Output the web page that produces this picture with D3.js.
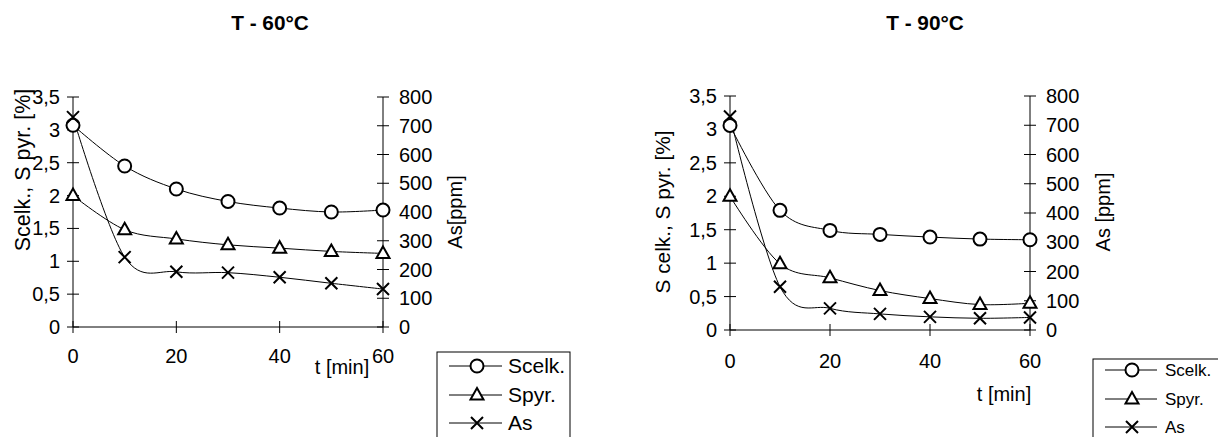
<!DOCTYPE html>
<html><head><meta charset="utf-8">
<script src="https://cdn.jsdelivr.net/npm/d3@7"></script>
<style>body{margin:0;background:#fff}svg{display:block;font-family:"Liberation Sans",Arial,sans-serif}</style>
</head><body>
<svg id="c" width="1218" height="437"></svg>
<script>
const times = [0, 10, 20, 30, 40, 50, 60];
const xTicks = [0, 20, 40, 60];
const leftTicks = [0, 0.5, 1, 1.5, 2, 2.5, 3, 3.5];
const rightTicks = [0, 100, 200, 300, 400, 500, 600, 700, 800];
const seriesNames = ["Scelk.", "Spyr.", "As"];

const scelk60 = [3.07, 2.45, 2.10, 1.91, 1.81, 1.75, 1.78];
const spyr60  = [2.00, 1.48, 1.34, 1.25, 1.20, 1.15, 1.12];
const as60    = [730, 243, 192, 189, 173, 152, 132];

const scelk90 = [3.06, 1.79, 1.49, 1.43, 1.39, 1.36, 1.35];
const spyr90  = [2.00, 0.99, 0.78, 0.59, 0.47, 0.38, 0.40];
const as90    = [730, 148, 74, 55, 45, 40, 43];

const svg = d3.select("#c");
const fmt = v => String(v).replace(".", ",");
const markerPath = {
  "Spyr.": "M0,-7L6.5,4.5L-6.5,4.5Z",
  "As": "M-6,-6L6,6M-6,6L6,-6"
};

function drawMarker(g, name, x, y) {
  if (name === "Scelk.") {
    g.append("circle").attr("cx", x).attr("cy", y).attr("r", 6.5)
      .attr("fill", "#fff").attr("stroke", "#000").attr("stroke-width", 2);
  } else {
    g.append("path").attr("d", markerPath[name]).attr("transform", `translate(${x},${y})`)
      .attr("fill", name === "As" ? "none" : "#fff").attr("stroke", "#000").attr("stroke-width", 2);
  }
}

function drawChart(cfg) {
  const g = svg.append("g");
  const x = d3.scaleLinear().domain([0, 60]).range([cfg.x0, cfg.x1]);
  const yL = d3.scaleLinear().domain([0, 3.5]).range([cfg.yB, cfg.yT]);
  const yR = d3.scaleLinear().domain([0, 800]).range([cfg.yB, cfg.yT]);

  g.append("text").attr("x", cfg.titleX).attr("y", 30).attr("text-anchor", "middle")
    .attr("font-size", 20.8).attr("font-weight", "bold").text(cfg.title);

  const ax = g.append("g").attr("stroke", "#000").attr("stroke-width", 1).attr("fill", "none");
  ax.append("line").attr("x1", cfg.x0).attr("x2", cfg.x1).attr("y1", cfg.yB).attr("y2", cfg.yB);
  ax.append("line").attr("x1", cfg.x0).attr("x2", cfg.x0).attr("y1", cfg.yB).attr("y2", cfg.yT);
  ax.append("line").attr("x1", cfg.x1).attr("x2", cfg.x1).attr("y1", cfg.yB).attr("y2", cfg.yT);

  xTicks.forEach(t => {
    ax.append("line").attr("x1", x(t)).attr("x2", x(t)).attr("y1", cfg.yB - 6).attr("y2", cfg.yB + 6);
    g.append("text").attr("x", x(t)).attr("y", cfg.xLabY).attr("text-anchor", "middle")
      .attr("font-size", 20).text(fmt(t));
  });
  leftTicks.forEach(t => {
    ax.append("line").attr("x1", cfg.x0 - 6).attr("x2", cfg.x0 + 6).attr("y1", yL(t)).attr("y2", yL(t));
    g.append("text").attr("x", cfg.x0 - 13).attr("y", yL(t) + 7).attr("text-anchor", "end")
      .attr("font-size", 20).text(fmt(t));
  });
  rightTicks.forEach(t => {
    ax.append("line").attr("x1", cfg.x1 - 6).attr("x2", cfg.x1 + 6).attr("y1", yR(t)).attr("y2", yR(t));
    g.append("text").attr("x", cfg.x1 + 16).attr("y", yR(t) + 7).attr("text-anchor", "start")
      .attr("font-size", 20).text(fmt(t));
  });

  g.append("text").attr("transform", `translate(${cfg.yLabX},${cfg.yLabY}) rotate(-90)`)
    .attr("text-anchor", "middle").attr("dy", "0.35em").attr("font-size", cfg.yLabSize).text(cfg.yLab);
  g.append("text").attr("transform", `translate(${cfg.rLabX},212) rotate(-90)`)
    .attr("text-anchor", "middle").attr("dy", "0.35em").attr("font-size", 20).text(cfg.rLab);
  g.append("text").attr("x", cfg.tX).attr("y", cfg.tY).attr("text-anchor", "middle")
    .attr("font-size", 20).text("t [min]");

  const series = [
    {name: "Scelk.", vals: cfg.scelk, y: yL},
    {name: "Spyr.", vals: cfg.spyr, y: yL},
    {name: "As", vals: cfg.as, y: yR}
  ];
  const line = d3.line().curve(d3.curveCardinal.tension(0));
  series.forEach(s => {
    g.append("path").attr("d", line(times.map((t, i) => [x(t), s.y(s.vals[i])])))
      .attr("fill", "none").attr("stroke", "#000").attr("stroke-width", 1);
  });
  series.forEach(s => {
    times.forEach((t, i) => drawMarker(g, s.name, x(t), s.y(s.vals[i])));
  });

  const L = cfg.leg;
  g.append("rect").attr("x", L.x).attr("y", L.y).attr("width", L.w).attr("height", 120)
    .attr("fill", "#fff").attr("stroke", "#000").attr("stroke-width", 1);
  seriesNames.forEach((n, i) => {
    const yy = L.ys[i];
    g.append("line").attr("x1", L.lx0).attr("x2", L.lx1).attr("y1", yy).attr("y2", yy)
      .attr("stroke", "#000").attr("stroke-width", 1);
    drawMarker(g, n, L.mx, yy);
    g.append("text").attr("x", L.tx).attr("y", yy).attr("dy", "0.35em")
      .attr("font-size", L.fs).text(n);
  });
}

drawChart({
  title: "T - 60°C", titleX: 270,
  x0: 73, x1: 383, yT: 97, yB: 327, xLabY: 363,
  yLab: "Scelk., S pyr. [%]", yLabX: 22, yLabY: 170, yLabSize: 21.5,
  rLab: "As[ppm]", rLabX: 455,
  tX: 342, tY: 374,
  scelk: scelk60, spyr: spyr60, as: as60,
  leg: {x: 437, y: 352, w: 133, ys: [366, 395, 423], lx0: 449, lx1: 502, mx: 477, tx: 508, fs: 21}
});
drawChart({
  title: "T - 90°C", titleX: 925,
  x0: 730, x1: 1030, yT: 96, yB: 330, xLabY: 368,
  yLab: "S celk., S pyr. [%]", yLabX: 663, yLabY: 212, yLabSize: 20.8,
  rLab: "As [ppm]", rLabX: 1103,
  tX: 1004, tY: 401,
  scelk: scelk90, spyr: spyr90, as: as90,
  leg: {x: 1093, y: 359, w: 140, ys: [370, 399, 427], lx0: 1105, lx1: 1157, mx: 1132, tx: 1165, fs: 17}
});
</script>
</body></html>
